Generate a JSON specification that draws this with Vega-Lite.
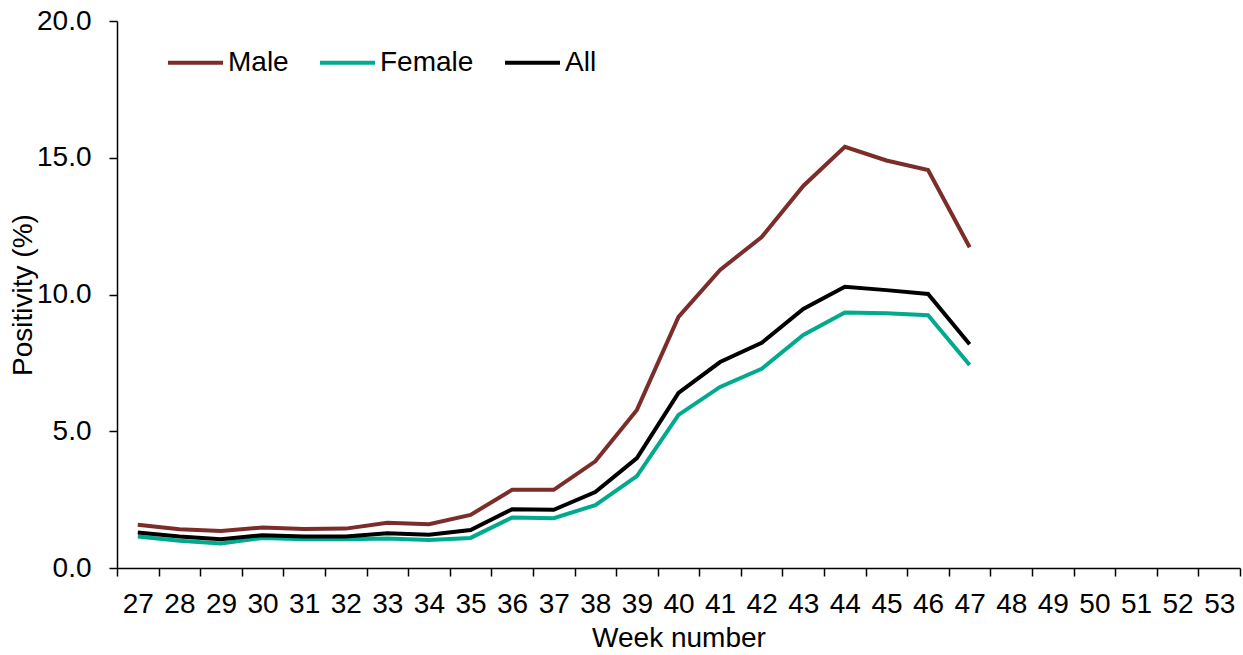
{
  "$schema": "https://vega.github.io/schema/vega-lite/v6.json",
  "width": 1123,
  "height": 547,
  "autosize": {"type": "none"},
  "padding": {"left": 117, "top": 21, "right": 3, "bottom": 87},
  "config": {
    "font": "Liberation Sans",
    "view": {"stroke": null},
    "axis": {"labelFont": "Liberation Sans", "titleFont": "Liberation Sans", "labelColor": "#000", "titleColor": "#000", "domainColor": "#000", "tickColor": "#000", "grid": false, "titleFontWeight": "normal"},
    "legend": {"labelFont": "Liberation Sans", "labelColor": "#000"}
  },
  "data": {"values": [
    {"week": 27, "sex": "Male", "value": 1.58}, {"week": 28, "sex": "Male", "value": 1.42}, {"week": 29, "sex": "Male", "value": 1.35}, {"week": 30, "sex": "Male", "value": 1.48}, {"week": 31, "sex": "Male", "value": 1.43}, {"week": 32, "sex": "Male", "value": 1.44}, {"week": 33, "sex": "Male", "value": 1.65}, {"week": 34, "sex": "Male", "value": 1.6}, {"week": 35, "sex": "Male", "value": 1.94}, {"week": 36, "sex": "Male", "value": 2.86}, {"week": 37, "sex": "Male", "value": 2.86}, {"week": 38, "sex": "Male", "value": 3.9}, {"week": 39, "sex": "Male", "value": 5.78}, {"week": 40, "sex": "Male", "value": 9.18}, {"week": 41, "sex": "Male", "value": 10.9}, {"week": 42, "sex": "Male", "value": 12.1}, {"week": 43, "sex": "Male", "value": 13.97}, {"week": 44, "sex": "Male", "value": 15.4}, {"week": 45, "sex": "Male", "value": 14.9}, {"week": 46, "sex": "Male", "value": 14.55}, {"week": 47, "sex": "Male", "value": 11.73},
    {"week": 27, "sex": "Female", "value": 1.15}, {"week": 28, "sex": "Female", "value": 1.0}, {"week": 29, "sex": "Female", "value": 0.9}, {"week": 30, "sex": "Female", "value": 1.1}, {"week": 31, "sex": "Female", "value": 1.05}, {"week": 32, "sex": "Female", "value": 1.05}, {"week": 33, "sex": "Female", "value": 1.08}, {"week": 34, "sex": "Female", "value": 1.02}, {"week": 35, "sex": "Female", "value": 1.1}, {"week": 36, "sex": "Female", "value": 1.85}, {"week": 37, "sex": "Female", "value": 1.82}, {"week": 38, "sex": "Female", "value": 2.3}, {"week": 39, "sex": "Female", "value": 3.36}, {"week": 40, "sex": "Female", "value": 5.6}, {"week": 41, "sex": "Female", "value": 6.62}, {"week": 42, "sex": "Female", "value": 7.28}, {"week": 43, "sex": "Female", "value": 8.52}, {"week": 44, "sex": "Female", "value": 9.34}, {"week": 45, "sex": "Female", "value": 9.31}, {"week": 46, "sex": "Female", "value": 9.24}, {"week": 47, "sex": "Female", "value": 7.42},
    {"week": 27, "sex": "All", "value": 1.3}, {"week": 28, "sex": "All", "value": 1.15}, {"week": 29, "sex": "All", "value": 1.05}, {"week": 30, "sex": "All", "value": 1.2}, {"week": 31, "sex": "All", "value": 1.15}, {"week": 32, "sex": "All", "value": 1.15}, {"week": 33, "sex": "All", "value": 1.27}, {"week": 34, "sex": "All", "value": 1.22}, {"week": 35, "sex": "All", "value": 1.39}, {"week": 36, "sex": "All", "value": 2.15}, {"week": 37, "sex": "All", "value": 2.13}, {"week": 38, "sex": "All", "value": 2.78}, {"week": 39, "sex": "All", "value": 4.02}, {"week": 40, "sex": "All", "value": 6.4}, {"week": 41, "sex": "All", "value": 7.53}, {"week": 42, "sex": "All", "value": 8.23}, {"week": 43, "sex": "All", "value": 9.47}, {"week": 44, "sex": "All", "value": 10.28}, {"week": 45, "sex": "All", "value": 10.16}, {"week": 46, "sex": "All", "value": 10.02}, {"week": 47, "sex": "All", "value": 8.18}
  ]},
  "layer": [
    {
      "mark": {"type": "line", "strokeWidth": 4},
      "encoding": {
        "x": {"field": "week", "type": "quantitative",
          "scale": {"domain": [26.5, 53.5], "nice": false, "zero": false},
          "axis": {"orient": "bottom", "values": [26.5, 27.5, 28.5, 29.5, 30.5, 31.5, 32.5, 33.5, 34.5, 35.5, 36.5, 37.5, 38.5, 39.5, 40.5, 41.5, 42.5, 43.5, 44.5, 45.5, 46.5, 47.5, 48.5, 49.5, 50.5, 51.5, 52.5, 53.5], "labels": false, "tickSize": 8, "tickWidth": 1.5, "domainWidth": 1.5, "title": null}},
        "y": {"field": "value", "type": "quantitative",
          "scale": {"domain": [0, 20], "nice": false},
          "axis": {"values": [0, 5, 10, 15, 20], "format": ".1f", "tickSize": 8, "tickWidth": 1.5, "domainWidth": 1.5, "labelFontSize": 28, "labelPadding": 18,
            "title": "Positivity (%)", "titleFontSize": 28, "titleX": -86, "titleY": 273.5, "titleAngle": -90, "titleAlign": "center", "titleBaseline": "alphabetic"}},
        "color": {"field": "sex", "type": "nominal",
          "scale": {"domain": ["Male", "Female", "All"], "range": ["#7B2D2A", "#00AA8D", "#000000"]},
          "legend": {"title": null, "orient": "none", "legendX": 49, "legendY": 12, "direction": "horizontal", "symbolType": "stroke", "symbolSize": 3025, "symbolStrokeWidth": 4, "labelFontSize": 28, "labelOffset": 3, "columnPadding": 23, "padding": 0}}
      }
    },
    {
      "mark": {"type": "line", "opacity": 0},
      "encoding": {
        "x": {"field": "week", "type": "quantitative",
          "axis": {"orient": "bottom", "values": [27, 28, 29, 30, 31, 32, 33, 34, 35, 36, 37, 38, 39, 40, 41, 42, 43, 44, 45, 46, 47, 48, 49, 50, 51, 52, 53], "format": "d", "ticks": false, "tickSize": 0, "domain": false, "labelFontSize": 28, "labelPadding": 22, "title": "Week number", "titleFontSize": 28, "titlePadding": 6}},
        "y": {"field": "value", "type": "quantitative"},
        "detail": {"field": "sex"}
      }
    }
  ],
  "resolve": {"axis": {"x": "independent"}}
}
